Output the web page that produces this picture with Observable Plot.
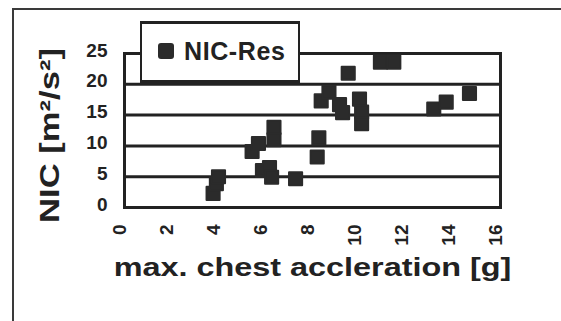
<!DOCTYPE html>
<html>
<head>
<meta charset="utf-8">
<script src="https://cdn.jsdelivr.net/npm/d3@7"></script>
<script src="https://cdn.jsdelivr.net/npm/@observablehq/plot@0.6"></script>
<style>
  html, body { margin: 0; padding: 0; background: #fff; }
  #wrap { position: relative; width: 561px; height: 321px; overflow: hidden; background: #fff;
          font-family: "Liberation Sans", Arial, sans-serif; color: #222; }
  #wrap svg { position: absolute; left: 0; top: 0; }
  #border { position: absolute; left: 12px; top: 8px; width: 600px; height: 400px;
            border-left: 2px solid #3a3a3a; border-top: 2px solid #3a3a3a; pointer-events: none; }
  #legend { position: absolute; left: 140px; top: 21px; width: 160px; height: 62px; box-sizing: border-box;
            border: 3px solid #222; border-left-width: 2px; border-right-width: 2px; background: #fff; }
  #legend .key { position: absolute; left: 16px; top: 19px; width: 16px; height: 16px;
                 background: #2b2b2b; border-radius: 3px; }
  #legend .name { position: absolute; left: 42px; top: 15px; font-size: 25px; line-height: 25px;
                  font-weight: bold; letter-spacing: 0.6px; white-space: nowrap; }
</style>
</head>
<body>
<div id="wrap">
  <div id="border"></div>
</div>
<script>
// Maximum chest acceleration [g] and the matching NIC value [m²/s²] for each test
const chestAccel = [3.77, 3.91, 4.0, 5.43, 5.70, 6.36, 6.36, 5.87, 6.17, 6.26, 7.28, 8.27, 8.2,
                    8.37, 8.7, 9.15, 9.28, 9.52, 10.0, 10.09, 10.09, 10.89, 11.46, 13.16, 13.69, 14.68];
const nicRes = [2.3, 3.85, 5.0, 9.1, 10.4, 13.0, 11.0, 6.0, 6.5, 4.9, 4.66, 11.3, 8.2,
                17.3, 18.7, 16.7, 15.4, 21.8, 17.6, 15.5, 13.6, 23.6, 23.6, 16.0, 17.1, 18.5];
const seriesName = "NIC-Res";
const xTicks = [0, 2, 4, 6, 8, 10, 12, 14, 16];
const yTicks = [0, 5, 10, 15, 20, 25];
const gridValues = [5, 10, 15, 20];
const xTitle = "max. chest accleration [g]";
const yTitle = "NIC [m²/s²]";

const points = chestAccel.map((a, i) => ({accel: a, nic: nicRes[i]}));
const ink = "#222";

const chart = Plot.plot({
  width: 561,
  height: 321,
  marginLeft: 124,
  marginRight: 61,
  marginTop: 53,
  marginBottom: 114,
  style: {fontFamily: "'Liberation Sans', Arial, sans-serif", fontSize: "19px", fontWeight: "bold",
          color: ink, background: "transparent", overflow: "visible"},
  x: {domain: [0, 16]},
  y: {domain: [0, 25]},
  marks: [
    Plot.ruleY(gridValues, {stroke: ink, strokeWidth: 3}),
    Plot.frame({stroke: ink, strokeWidth: 3}),
    Plot.axisX(xTicks, {tickSize: 0, tickRotate: -90, tickPadding: 17, dx: -5, label: null,
                        fontSize: 19, fontWeight: "bold", fill: ink}),
    Plot.axisY(yTicks, {tickSize: 0, tickPadding: 17, dy: -3, label: null,
                        fontSize: 19, fontWeight: "bold", fill: ink}),
    Plot.dot(points, {x: "accel", y: "nic", symbol: "square", r: 7.4,
                      fill: "#2b2b2b", stroke: "#2b2b2b", strokeWidth: 2, strokeLinejoin: "round"}),
    Plot.text([xTitle], {text: d => d, frameAnchor: "bottom", textAnchor: "middle", dy: 68,
                         fontSize: 26, fontWeight: "bold", fill: ink}),
    Plot.text([yTitle], {text: d => d, frameAnchor: "left", textAnchor: "middle", rotate: -90,
                         dx: -74, dy: 5, fontSize: 27, fontWeight: "bold", fill: ink})
  ]
});

const wrap = document.getElementById("wrap");
wrap.insertBefore(chart, wrap.firstChild);

// The titles are set in a wide face: stretch each one along its reading direction
function stretch(label, length, vertical) {
  const t = Array.from(chart.querySelectorAll("text")).find(el => el.textContent === label);
  if (!t) return;
  const outer = document.createElementNS("http://www.w3.org/2000/svg", "g");
  t.parentNode.insertBefore(outer, t);
  outer.appendChild(t);
  const bb = outer.getBBox();
  if (vertical) {
    const s = length / bb.height, cy = bb.y + bb.height / 2;
    outer.setAttribute("transform", `translate(0,${cy}) scale(1,${s}) translate(0,${-cy})`);
  } else {
    const s = length / bb.width, cx = bb.x + bb.width / 2;
    outer.setAttribute("transform", `translate(${cx},0) scale(${s},1) translate(${-cx},0)`);
  }
}
stretch(xTitle, 398, false);
stretch(yTitle, 175, true);

// Legend box sitting over the top of the plot frame
const legend = document.createElement("div");
legend.id = "legend";
legend.innerHTML = `<div class="key"></div><div class="name"></div>`;
legend.querySelector(".name").textContent = seriesName;
wrap.appendChild(legend);
</script>
</body>
</html>
